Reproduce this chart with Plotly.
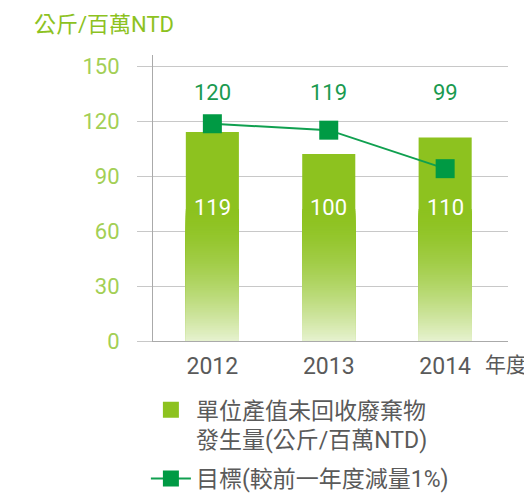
import plotly.graph_objects as go

years = ["2012", "2013", "2014"]
waste_values = [114, 102, 111]
waste_labels = ["119", "100", "110"]
target_values = [118.5, 115, 94]
target_labels = ["120", "119", "99"]
y_ticks = [0, 30, 60, 90, 120, 150]
x_divider_ticks = [0.5, 1.5]

waste_name = "單位產值未回收廢棄物<br>發生量(公斤/百萬NTD)"
target_name = "目標(較前一年度減量1%)"

FONT = "Roboto, Noto Sans CJK TC, sans-serif"
SOLID = (141, 194, 31)
PALE = (236, 245, 218)
LIGHT_GREEN = "#8dc21f"
DARK_GREEN = "#009a44"
GREY_TEXT = "#5a5a5a"
GRID = "#c8c8c8"
AXIS = "#aaaaaa"
BAR_W = 0.456
X_RANGE = [-0.51, 2.54]

fig = go.Figure()

# main bars (solid colour)
fig.add_trace(go.Bar(x=years, y=waste_values, width=BAR_W,
                     marker=dict(color=LIGHT_GREEN, line=dict(width=0)),
                     name=waste_name, showlegend=False, hoverinfo="x+y"))

# gradient toward the bottom, built by overlaying shorter bars
fade_top = 72
for lev in range(fade_top, 0, -1):
    x = lev / fade_top
    t = 1 - 0.95 * (1 - x) ** 1.6
    c = tuple(round(PALE[i] + (SOLID[i] - PALE[i]) * t) for i in range(3))
    fig.add_trace(go.Bar(x=years, y=[min(v, lev) for v in waste_values], width=BAR_W,
                         marker=dict(color="rgb(%d,%d,%d)" % c, line=dict(width=0)),
                         showlegend=False, hoverinfo="skip"))

# legend entry for bars
fig.add_trace(go.Scatter(x=[None], y=[None], mode="markers", name=waste_name,
                         legendgroup="a",
                         marker=dict(symbol="square", size=19, color=LIGHT_GREEN)))

# target line
fig.add_trace(go.Scatter(x=years, y=target_values, mode="lines+markers", name=target_name,
                         legendgroup="b",
                         line=dict(color="#10a050", width=2),
                         marker=dict(symbol="square", size=19, color=DARK_GREEN)))

# labels
for i, lab in enumerate(target_labels):
    fig.add_annotation(x=i, y=135.3, text=lab, showarrow=False,
                       font=dict(family=FONT, size=22, color="#1a9a50"), yanchor="middle")
for i, lab in enumerate(waste_labels):
    fig.add_annotation(x=i, y=72.8, text=lab, showarrow=False,
                       font=dict(family=FONT, size=22, color="white"), yanchor="middle")

fig.add_annotation(xref="paper", yref="paper", x=-0.341, y=1.106, text="公斤/百萬NTD",
                   showarrow=False, xanchor="left", yanchor="middle",
                   font=dict(family=FONT, size=22, color=LIGHT_GREEN))
fig.add_annotation(xref="paper", yref="paper", x=0.930, y=-0.083, text="年度",
                   showarrow=False, xanchor="left", yanchor="middle",
                   font=dict(family=FONT, size=21, color=GREY_TEXT))

fig.update_layout(
    width=532, height=504,
    margin=dict(l=145, r=32, t=47, b=169),
    paper_bgcolor="white", plot_bgcolor="white",
    barmode="overlay",
    font=dict(family=FONT, size=23, color=GREY_TEXT),
    showlegend=True,
    legend=dict(x=-0.02, y=-0.165, xanchor="left", yanchor="top",
                font=dict(family=FONT, size=23, color=GREY_TEXT),
                bgcolor="rgba(0,0,0,0)", itemwidth=40, traceorder="grouped",
                tracegroupgap=6, valign="top"),
    xaxis=dict(type="category", range=X_RANGE, showgrid=False,
               showline=True, linecolor=AXIS, linewidth=1, ticks="",
               tickfont=dict(family=FONT, size=23, color=GREY_TEXT),
               ticklabelstandoff=4, fixedrange=True),
    xaxis2=dict(overlaying="x", anchor="y", side="bottom", range=X_RANGE,
                tickmode="array", tickvals=x_divider_ticks, showticklabels=False,
                ticks="outside", ticklen=5, tickcolor=AXIS, showgrid=False,
                zeroline=False, showline=False, fixedrange=True),
    yaxis=dict(range=[0, 156], tickvals=y_ticks, showgrid=True, gridcolor=GRID, gridwidth=1,
               showline=True, linecolor=AXIS, linewidth=1,
               ticks="outside", ticklen=15, tickcolor=GRID, zeroline=False,
               tickfont=dict(family=FONT, size=22, color="#a3cf55"),
               ticklabelstandoff=13, fixedrange=True),
)

fig.write_html("out.html")
